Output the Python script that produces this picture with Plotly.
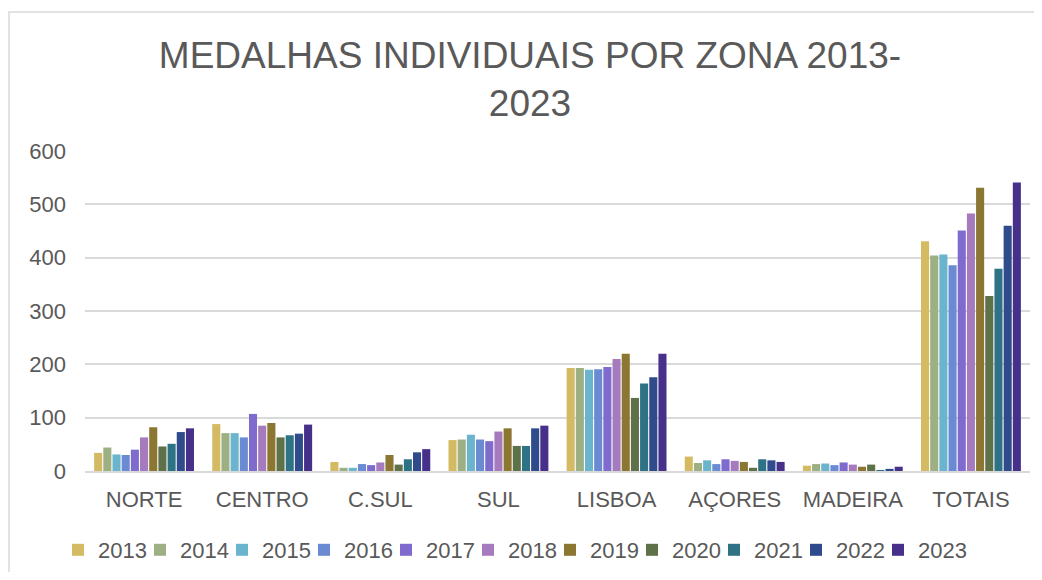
import plotly.graph_objects as go

zones = ["NORTE", "CENTRO", "C.SUL", "SUL", "LISBOA", "AÇORES", "MADEIRA", "TOTAIS"]
years = ["2013", "2014", "2015", "2016", "2017", "2018", "2019", "2020", "2021", "2022", "2023"]

v2013 = [34, 88, 17, 58, 193, 27, 10, 431]
v2014 = [44, 71, 6, 59, 193, 15, 13, 404]
v2015 = [31, 71, 6, 68, 190, 20, 14, 406]
v2016 = [30, 63, 13, 59, 191, 13, 11, 386]
v2017 = [40, 107, 11, 56, 195, 22, 16, 451]
v2018 = [63, 85, 16, 74, 210, 19, 12, 483]
v2019 = [82, 90, 30, 80, 220, 17, 8, 531]
v2020 = [46, 63, 12, 47, 137, 6, 12, 328]
v2021 = [51, 67, 22, 47, 164, 22, 1, 379]
v2022 = [73, 70, 35, 80, 176, 20, 4, 460]
v2023 = [80, 87, 41, 85, 220, 17, 8, 541]

series = [v2013, v2014, v2015, v2016, v2017, v2018, v2019, v2020, v2021, v2022, v2023]
colors = ["#D4BB63", "#9DB083", "#6BB4CD", "#6A8AD2", "#7E6BCD", "#A57BBD",
          "#8B7632", "#5F7149", "#2E7286", "#2F4B8C", "#46308A"]

FONT = "Liberation Sans, Arial, sans-serif"
GREY = "#595959"

fig = go.Figure()
for y, vals, c in zip(years, series, colors):
    fig.add_trace(go.Bar(name=y, x=zones, y=vals, marker=dict(color=c, line=dict(width=0))))

# empty spacer legend entry so the last label is not clipped
fig.add_trace(go.Scatter(x=[None], y=[None], mode="markers", name=" ",
                         marker=dict(color="rgba(0,0,0,0)", size=1), hoverinfo="skip"))

# page body has an 8px margin: figure pixel = screen pixel - 8
OFF = 8
W, H = 1026, 564
L = 85 - OFF
T = 151 - OFF
R = W - (1030 - OFF)
B = H - (471 - OFF)
pw, ph = W - L - R, H - T - B

def px_x(p):
    return (p - OFF - L) / pw

def px_y(p):
    return (H - B - (p - OFF)) / ph

fig.update_layout(
    width=W, height=H,
    margin=dict(l=L, r=R, t=T, b=B, autoexpand=False),
    paper_bgcolor="white", plot_bgcolor="white",
    barmode="group", bargap=0.145, bargroupgap=0.12,
    font=dict(family=FONT, color=GREY, size=22),
    title=dict(text="MEDALHAS INDIVIDUAIS POR ZONA 2013-<br>2023",
               x=(530 - OFF) / W, xanchor="center", y=1 - 60 / H, yanchor="top",
               yref="container", font=dict(size=37, color=GREY, family=FONT)),
    legend=dict(orientation="h", x=px_x(58), xanchor="left", y=px_y(550), yanchor="middle",
                font=dict(size=22, color=GREY, family=FONT), entrywidth=37, traceorder="normal",
                itemwidth=30),
    showlegend=True,
)
fig.update_yaxes(range=[0, 600], dtick=100, showgrid=True, gridcolor="#D9D9D9", gridwidth=1.5,
                 zeroline=False, showline=False, ticks="", ticklabelstandoff=18,
                 tickfont=dict(size=22, color=GREY))
fig.update_xaxes(showline=True, linecolor="#D9D9D9", linewidth=1.5, ticks="", ticklabelstandoff=8,
                 tickfont=dict(size=22, color=GREY))

fig.add_shape(type="rect", xref="paper", yref="paper",
              x0=px_x(9), x1=px_x(1070), y0=px_y(620), y1=px_y(12),
              line=dict(color="#D9D9D9", width=1.5), fillcolor="rgba(0,0,0,0)", layer="below")

fig.write_html("out.html")
